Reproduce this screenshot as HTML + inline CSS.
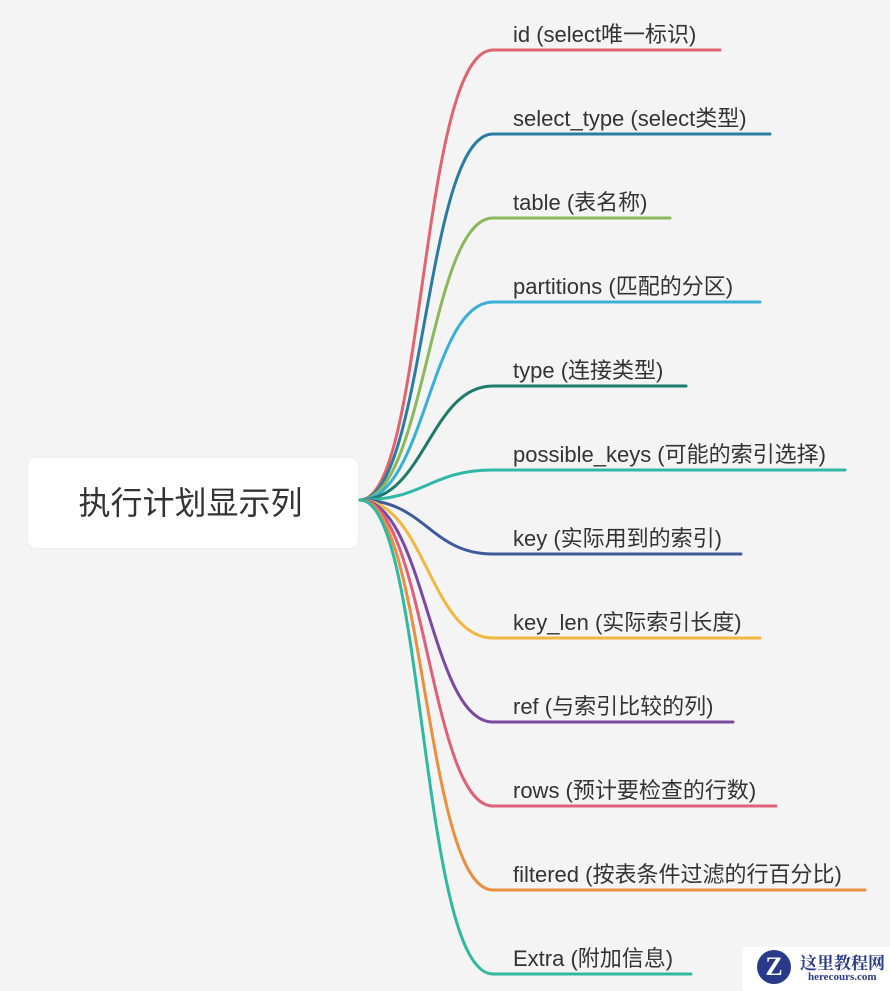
<!DOCTYPE html>
<html><head><meta charset="utf-8"><style>
body{margin:0;width:890px;height:991px;background:#f4f4f4;overflow:hidden;position:relative;font-family:"Liberation Sans","Noto Sans CJK SC",sans-serif}
.root{position:absolute;left:28px;top:458px;width:330px;height:90px;background:#fff;border-radius:8px;box-shadow:0 0 3px rgba(0,0,0,0.06);font-size:32px;color:#333;line-height:90px;text-align:center;box-sizing:border-box;padding-right:5px}
.t{position:absolute;left:513px;font-size:22px;color:#333;white-space:nowrap}
</style></head><body>
<svg width="890" height="991" style="position:absolute;left:0;top:0">
<g fill="none" stroke-width="3" stroke-linecap="round">
<path d="M360,500 C425,500 420,50 493,50 L720,50" stroke="#e06470"/>
<path d="M360,500 C425,500 425,134 493,134 L770,134" stroke="#2a7da0"/>
<path d="M360,500 C425,500 430,218 493,218 L670,218" stroke="#8bb85a"/>
<path d="M360,500 C425,500 430,302 493,302 L760,302" stroke="#3ab0d8"/>
<path d="M360,500 C425,500 430,386 493,386 L686,386" stroke="#1e7a6a"/>
<path d="M360,500 C425,500 430,470 493,470 L845,470" stroke="#2fb8a8"/>
<path d="M360,500 C425,500 430,554 493,554 L741,554" stroke="#3e5a9a"/>
<path d="M360,500 C425,500 430,638 493,638 L760,638" stroke="#f0b840"/>
<path d="M360,500 C425,500 430,722 493,722 L733,722" stroke="#7a4aa0"/>
<path d="M360,500 C425,500 430,806 493,806 L776,806" stroke="#e0607a"/>
<path d="M360,500 C425,500 425,890 493,890 L865,890" stroke="#e89040"/>
<path d="M360,500 C425,500 420,974 493,974 L691,974" stroke="#30b8a0"/>
</g></svg>
<div class="root">执行计划显示列</div>
<div class="t" style="top:17px">id (select唯一标识)</div>
<div class="t" style="top:101px">select_type (select类型)</div>
<div class="t" style="top:185px">table (表名称)</div>
<div class="t" style="top:269px">partitions (匹配的分区)</div>
<div class="t" style="top:353px">type (连接类型)</div>
<div class="t" style="top:437px">possible_keys (可能的索引选择)</div>
<div class="t" style="top:521px">key (实际用到的索引)</div>
<div class="t" style="top:605px">key_len (实际索引长度)</div>
<div class="t" style="top:689px">ref (与索引比较的列)</div>
<div class="t" style="top:773px">rows (预计要检查的行数)</div>
<div class="t" style="top:857px">filtered (按表条件过滤的行百分比)</div>
<div class="t" style="top:941px">Extra (附加信息)</div>
<div style="position:absolute;left:743px;top:947px;width:147px;height:44px;background:#fff"></div>
<div style="position:absolute;left:757px;top:950px;width:34px;height:34px;border-radius:50%;background:#2a3a8a;color:#fff;font:bold 26px 'Liberation Serif',serif;text-align:center;line-height:34px">Z</div>
<div style="position:absolute;left:800px;top:949px;font:bold 17px 'Noto Serif CJK SC',serif;color:#2a3a8a">这里教程网</div>
<div style="position:absolute;left:808px;top:971px;font:bold 11px 'Liberation Serif',serif;color:#2a3a8a">herecours.com</div>
</body></html>
